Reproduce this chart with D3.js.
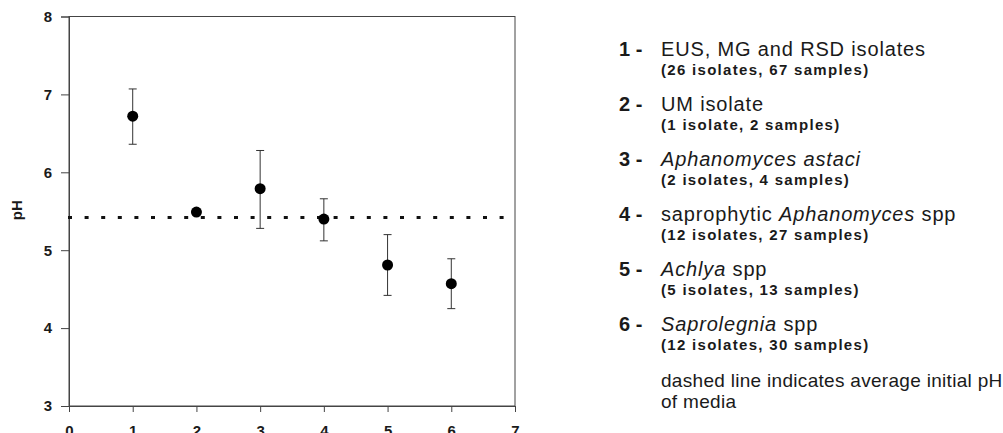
<!DOCTYPE html>
<html>
<head>
<meta charset="utf-8">
<script src="https://cdn.jsdelivr.net/npm/d3@7"></script>
<style>
  body { margin: 0; background: #fff; }
  svg { display: block; font-family: Arial, "Liberation Sans", sans-serif; }
</style>
</head>
<body>
<div id="chart"></div>
<script>
// group index, mean pH, upper and lower error bar ends
const groups = [1, 2, 3, 4, 5, 6];
const meanPH = [6.72, 5.49, 5.79, 5.40, 4.81, 4.57];
const upperPH = [7.07, 5.52, 6.28, 5.66, 5.20, 4.89];
const lowerPH = [6.36, 5.46, 5.28, 5.12, 4.42, 4.25];
const initialPH = 5.42;
const xTicks = [0, 1, 2, 3, 4, 5, 6, 7];
const yTicks = [3, 4, 5, 6, 7, 8];

const legendNums = ['1 -', '2 -', '3 -', '4 -', '5 -', '6 -'];
// main label pieces: [text, italic]
const legendMain = [
  [['EUS, MG and RSD isolates', false]],
  [['UM isolate', false]],
  [['Aphanomyces astaci', true]],
  [['saprophytic ', false], ['Aphanomyces', true], [' spp', false]],
  [['Achlya', true], [' spp', false]],
  [['Saprolegnia', true], [' spp', false]]
];
const legendSub = [
  '(26 isolates, 67 samples)',
  '(1 isolate, 2 samples)',
  '(2 isolates, 4 samples)',
  '(12 isolates, 27 samples)',
  '(5 isolates, 13 samples)',
  '(12 isolates, 30 samples)'
];
const noteLines = ['dashed line indicates average initial pH', 'of media'];

const W = 1003, H = 433;
const svg = d3.select('#chart').append('svg')
  .attr('width', W).attr('height', H);

const x = d3.scaleLinear().domain([0, 7]).range([69, 515]);
const y = d3.scaleLinear().domain([3, 8]).range([406, 16.5]);

const ink = '#1a1a1a';

// frame
svg.append('rect')
  .attr('x', x(0)).attr('y', y(8))
  .attr('width', x(7) - x(0)).attr('height', y(3) - y(8))
  .attr('fill', 'none').attr('stroke', '#444').attr('stroke-width', 1);

const xAxis = svg.append('g')
  .attr('transform', `translate(0,${y(3)})`)
  .call(d3.axisBottom(x).tickValues(xTicks).tickSize(6).tickPadding(13).tickFormat(d3.format('d')));
const yAxis = svg.append('g')
  .attr('transform', `translate(${x(0)},0)`)
  .call(d3.axisLeft(y).tickValues(yTicks).tickSize(8).tickPadding(9).tickFormat(d3.format('d')));

[xAxis, yAxis].forEach(a => {
  a.select('.domain').attr('stroke', '#444');
  a.selectAll('.tick line').attr('stroke', '#444');
  a.selectAll('.tick text')
    .attr('fill', ink)
    .attr('font-size', 15)
    .attr('font-weight', 'bold')
    .attr('font-family', 'Arial, "Liberation Sans", sans-serif');
});

// y label
svg.append('text')
  .attr('transform', `translate(22,${y(5.5) - 1}) rotate(-90)`)
  .attr('text-anchor', 'middle')
  .attr('font-size', 15)
  .attr('font-weight', 'bold')
  .attr('fill', ink)
  .text('pH');

// dotted average line
svg.append('line')
  .attr('x1', x(0) - 1).attr('x2', x(6.9))
  .attr('y1', y(initialPH)).attr('y2', y(initialPH))
  .attr('stroke', '#111')
  .attr('stroke-width', 3)
  .attr('stroke-dasharray', '4 12.6');

// error bars
const pts = groups.map((g, i) => ({ g, m: meanPH[i], hi: upperPH[i], lo: lowerPH[i] }));
const eb = svg.append('g').attr('stroke', '#333').attr('stroke-width', 1);
eb.selectAll('.v').data(pts).enter().append('line')
  .attr('x1', d => x(d.g)).attr('x2', d => x(d.g))
  .attr('y1', d => y(d.hi)).attr('y2', d => y(d.lo));
eb.selectAll('.t').data(pts).enter().append('line')
  .attr('x1', d => x(d.g) - 4).attr('x2', d => x(d.g) + 4)
  .attr('y1', d => y(d.hi)).attr('y2', d => y(d.hi));
eb.selectAll('.b').data(pts).enter().append('line')
  .attr('x1', d => x(d.g) - 4).attr('x2', d => x(d.g) + 4)
  .attr('y1', d => y(d.lo)).attr('y2', d => y(d.lo));

svg.append('g').selectAll('circle').data(pts).enter().append('circle')
  .attr('cx', d => x(d.g)).attr('cy', d => y(d.m))
  .attr('r', 5.5).attr('fill', '#000');

// legend
const lx = 619, tx = 661, row0 = 56, rowH = 54.9;
const leg = svg.append('g').attr('fill', ink);
legendNums.forEach((n, i) => {
  const by = row0 + i * rowH;
  leg.append('text').attr('x', lx).attr('y', by)
    .attr('font-size', 20).attr('font-weight', 'bold').text(n);
  const t = leg.append('text').attr('x', tx).attr('y', by)
    .attr('font-size', 20).attr('letter-spacing', 0.85);
  legendMain[i].forEach(([s, it]) => {
    t.append('tspan').attr('font-style', it ? 'italic' : 'normal').text(s);
  });
  leg.append('text').attr('x', tx).attr('y', by + 19)
    .attr('font-size', 15).attr('font-weight', 'bold').attr('letter-spacing', 1.3)
    .text(legendSub[i]);
});
noteLines.forEach((s, i) => {
  leg.append('text').attr('x', tx).attr('y', 387 + i * 21)
    .attr('font-size', 19).attr('letter-spacing', 0.3).text(s);
});
</script>
</body>
</html>
